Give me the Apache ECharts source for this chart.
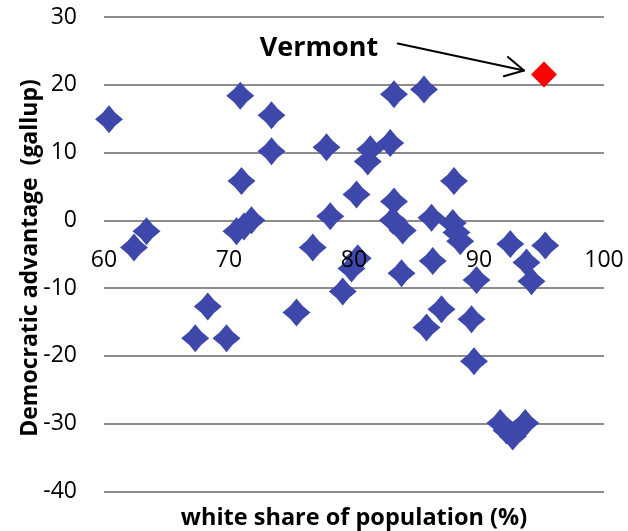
<!DOCTYPE html>
<html>
<head>
<meta charset="utf-8">
<title>White share of population vs Democratic advantage</title>
<script src="https://cdn.jsdelivr.net/npm/echarts@6/dist/echarts.min.js"></script>
<style>
  html, body { margin: 0; padding: 0; background: #fff; }
  #chart { width: 628px; height: 531px; }
</style>
</head>
<body>
<div id="chart"></div>
<script>
// White share of population (%) for each state
const whiteShare = [
  60.4, 70.9, 73.4, 73.4, 71.0, 63.4, 62.4, 70.6, 71.8, 71.2,
  83.2, 85.6, 77.8, 81.3, 82.9, 81.1, 80.2, 78.1, 83.2, 83.1,
  83.9, 86.2, 88.0, 76.7, 87.9, 88.2, 88.5, 80.3, 79.8, 79.1,
  68.3, 67.3, 69.8, 75.4, 83.8, 86.3, 89.8, 87.0, 85.8, 89.4,
  89.6, 92.5, 95.3, 93.8, 94.2, 91.7, 93.7, 92.7, 92.2
];
// Democratic advantage (Gallup), same order
const demAdvantage = [
  14.9, 18.4, 15.5, 10.2, 5.8, -1.6, -4.0, -1.6, 0.0, -0.9,
  18.6, 19.3, 10.8, 10.5, 11.4, 8.7, 3.8, 0.6, 2.8, 0.0,
  -1.5, 0.4, 5.8, -4.0, -0.4, -1.8, -3.1, -5.6, -7.1, -10.5,
  -12.7, -17.4, -17.4, -13.6, -7.8, -6.0, -8.8, -13.1, -15.8, -14.6,
  -20.8, -3.5, -3.7, -6.2, -9.0, -29.9, -29.9, -31.9, -31.0
];
// Vermont, highlighted
const vermont = [95.2, 21.5];
const vermontName = 'Vermont';

// Axis tick values
const xTicks = [60, 70, 80, 90, 100];
const yTicks = [-40, -30, -20, -10, 0, 10, 20, 30];

// Axis titles
const xTitle = 'white share of population (%)';
const yTitle = 'Democratic advantage  (gallup)';

// Callout placement in data space
const calloutText = [77.2, 25.4];
const arrowFrom = [83.5, 26.1];
const arrowTo = [93.6, 22.1];

const stateData = whiteShare.map((x, i) => [x, demAdvantage[i]]);

const FONT = '"Open Sans", "Liberation Sans", sans-serif';
const GRID_COLOR = '#8c8c8c';
const BLUE = '#3e48aa';

// Diamond with slightly pinched sides
const diamondPath = 'path://M0 -14 Q5.8 -5.8 14 0 Q5.8 5.8 0 14 Q-5.8 5.8 -14 0 Q-5.8 -5.8 0 -14 Z';

const chart = echarts.init(document.getElementById('chart'), null, { renderer: 'canvas' });

function buildOption(xOffset) {
  return {
    animation: false,
    backgroundColor: '#ffffff',
    grid: { left: 104, right: 24, top: 17, bottom: 39.5, containLabel: false },
    xAxis: {
      type: 'value',
      min: xTicks[0],
      max: xTicks[xTicks.length - 1],
      interval: 10,
      offset: xOffset,
      // the y = 0 gridline doubles as the axis line; labels sit above the markers
      z: 6,
      axisLine: { show: false, onZero: false },
      axisTick: { show: false },
      splitLine: { show: false },
      axisLabel: { color: '#000', fontFamily: FONT, fontSize: 23, margin: 24 }
    },
    yAxis: {
      type: 'value',
      min: yTicks[0],
      max: yTicks[yTicks.length - 1],
      interval: 10,
      z: 0,
      axisLine: { show: false },
      axisTick: { show: false },
      splitLine: { show: true, lineStyle: { color: GRID_COLOR, width: 2 } },
      axisLabel: { color: '#000', fontFamily: FONT, fontSize: 23, margin: 27 }
    },
    series: [
      {
        type: 'scatter',
        data: stateData,
        symbol: diamondPath,
        symbolSize: 28,
        itemStyle: { color: BLUE, opacity: 1 },
        z: 2
      },
      {
        type: 'scatter',
        name: vermontName,
        data: [vermont],
        symbol: 'diamond',
        symbolSize: 26,
        itemStyle: { color: '#ff0000', opacity: 1 },
        z: 3
      }
    ]
  };
}

chart.setOption(buildOption(0));

// Move the horizontal axis labels up to where y = 0
const zeroPx = chart.convertToPixel({ gridIndex: 0 }, [xTicks[0], 0])[1];
const bottomPx = chart.convertToPixel({ gridIndex: 0 }, [xTicks[0], yTicks[0]])[1];
chart.setOption(buildOption(zeroPx - bottomPx));

// Callout text, arrow and axis titles
function drawAnnotations() {
  const p0 = chart.convertToPixel({ gridIndex: 0 }, arrowFrom);
  const p1 = chart.convertToPixel({ gridIndex: 0 }, arrowTo);
  const pt = chart.convertToPixel({ gridIndex: 0 }, calloutText);
  const ang = Math.atan2(p1[1] - p0[1], p1[0] - p0[0]);
  const headLen = 21;
  const spread = 28 * Math.PI / 180;
  const a1 = [p1[0] - headLen * Math.cos(ang - spread), p1[1] - headLen * Math.sin(ang - spread)];
  const a2 = [p1[0] - headLen * Math.cos(ang + spread), p1[1] - headLen * Math.sin(ang + spread)];
  const lineStyle = { stroke: '#000', lineWidth: 2, fill: null, lineCap: 'round', lineJoin: 'round' };

  chart.setOption({
    graphic: [
      {
        type: 'text',
        x: pt[0], y: pt[1],
        style: {
          text: vermontName,
          fill: '#000',
          font: 'bold 27px ' + FONT,
          align: 'center',
          verticalAlign: 'middle'
        },
        z: 10
      },
      { type: 'polyline', shape: { points: [p0, p1] }, style: lineStyle, z: 10 },
      { type: 'polyline', shape: { points: [a1, p1, a2] }, style: lineStyle, z: 10 },
      {
        type: 'text',
        x: 354, y: 518,
        style: {
          text: xTitle,
          fill: '#000',
          font: 'bold 23.5px ' + FONT,
          align: 'center',
          verticalAlign: 'middle'
        },
        z: 10
      },
      {
        type: 'text',
        x: 30, y: 258,
        rotation: Math.PI / 2,
        style: {
          text: yTitle,
          fill: '#000',
          font: 'bold 23px ' + FONT,
          align: 'center',
          verticalAlign: 'middle'
        },
        z: 10
      }
    ]
  });
}
drawAnnotations();
</script>
</body>
</html>
